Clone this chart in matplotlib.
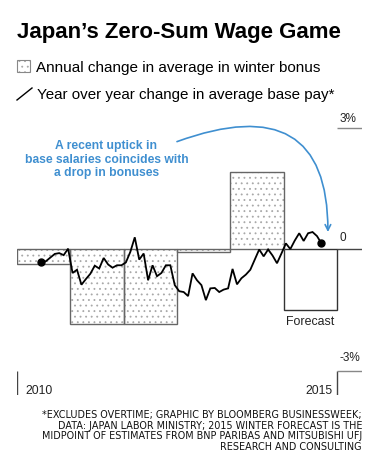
import matplotlib
matplotlib.use("Agg")
import matplotlib.pyplot as plt
from matplotlib.patches import Rectangle
import numpy as np
import pandas as pd

# ---------------- data ----------------
bonus_years = [2010, 2011, 2012, 2013, 2014, 2015]
bonus_change = [-0.37, -1.85, -1.85, -0.06, 1.91, -1.50]
bonus_forecast = [False, False, False, False, False, True]

pay_months = pd.date_range("2010-06-01", "2015-09-01", freq="MS")
pay_change = [
    -0.32, -0.29, -0.20, -0.11, -0.09, -0.14, 0.02,
    -0.58, -0.50, -0.87, -0.73, -0.60, -0.40, -0.47, -0.21, -0.37, -0.45, -0.39, -0.39, -0.32,
    -0.06, 0.30, -0.25, -0.10, -0.76, -0.39, -0.66, -0.58, -0.39, -0.39,
    -0.88, -1.03, -1.05, -1.15, -0.59, -0.76, -0.88, -1.25, -0.96, -0.95, -1.05, -0.99, -0.96,
    -0.48, -0.86, -0.71, -0.62, -0.50, -0.25, 0.00, -0.17, 0.00, -0.15, -0.34,
    -0.10, 0.15, 0.01, 0.22, 0.40, 0.21, 0.40, 0.43, 0.33, 0.15,
]
y_ticks = [3, 0, -3]
y_tick_labels = ["3%", "0", "-3%"]
x_labels = ["2010", "2015"]

title = "Japan\u2019s Zero-Sum Wage Game"
legend_bar = "Annual change in average in winter bonus"
legend_line = "Year over year change in average base pay*"
note_lines = ["A recent uptick in", "base salaries coincides with", "a drop in bonuses"]
footnote = [
    "*EXCLUDES OVERTIME; GRAPHIC BY BLOOMBERG BUSINESSWEEK;",
    "DATA: JAPAN LABOR MINISTRY; 2015 WINTER FORECAST IS THE",
    "MIDPOINT OF ESTIMATES FROM BNP PARIBAS AND MITSUBISHI UFJ",
    "RESEARCH AND CONSULTING",
]

# ---------------- style ----------------
W, H = 378, 471
plt.rcParams["hatch.linewidth"] = 0.6
FONT = "Liberation Sans"
BLUE = "#3f8fd0"
DOTS = "#a8a8a8"

fig = plt.figure(figsize=(W / 100, H / 100), dpi=100)
fig.patch.set_facecolor("white")


def fx(px):
    return px / W


def fy(py):
    return 1 - py / H


ax = fig.add_axes([fx(17), fy(395), fx(362) - fx(17), fy(110) - fy(395)])
ax.set_xlim(2010, 2016.469)
ax.set_ylim(-3.59, 3.44)
ax.axis("off")

# bars
for yr, val, fc in zip(bonus_years, bonus_change, bonus_forecast):
    if fc:
        ax.bar(yr, val, width=1.0, align="edge", facecolor="white",
               edgecolor="#333333", linewidth=1.0, zorder=2)
    else:
        ax.bar(yr, val, width=1.0, align="edge", facecolor="white",
               edgecolor=DOTS, linewidth=0, hatch="...", zorder=2)
        ax.bar(yr, val, width=1.0, align="edge", facecolor="none",
               edgecolor="#666666", linewidth=1.0, zorder=3)

# line
xs = np.array([d.year + (d.month - 0.5) / 12 for d in pay_months])
ax.plot(xs, pay_change, color="black", lw=1.3, zorder=5, solid_joinstyle="miter")
ax.plot([xs[0], xs[-1]], [pay_change[0], pay_change[-1]], "o", color="black",
        ms=5, zorder=6)

# right-hand scale
x_end = 2016.469
label_offsets = [0.15, 0.22, 0.25]
for yt, lab, off in zip(y_ticks, y_tick_labels, label_offsets):
    ax.plot([2016, x_end], [yt, yt], color="#888888" if yt != 0 else "#444444",
            lw=1.0, zorder=4, solid_capstyle="butt")
    ax.text(2016.04, yt + off, lab, fontsize=8.5, family=FONT,
            ha="left", va="baseline", color="#222222")
for xv in [2010, 2016]:
    ax.plot([xv, xv], [-3.59, -3.0], color="#444444", lw=1.0,
            solid_capstyle="butt")
ax.text(2010.15, -3.57, x_labels[0], fontsize=8.7, family=FONT,
        ha="left", va="baseline", color="#222222")
ax.text(2015.92, -3.57, x_labels[1], fontsize=8.7, family=FONT,
        ha="right", va="baseline", color="#222222")
ax.text(2015.5, -1.87, "Forecast", fontsize=8.9, family=FONT,
        ha="center", va="baseline", color="#222222")

# annotation
for i, ln in enumerate(note_lines):
    ax.text(2011.678, (249.5 - (149.3 + 13.7 * i)) / 40.4, ln, fontsize=8.7,
            family=FONT, weight="bold", color=BLUE, ha="center", va="baseline")
ax.annotate("", xy=(2015.83, 0.43), xytext=(2013.0, 2.66),
            arrowprops=dict(arrowstyle="->", color=BLUE, lw=1.2,
                            shrinkA=0, shrinkB=0,
                            connectionstyle="angle3,angleA=20,angleB=90"))

# title and legend
fig.text(fx(17), fy(38), title, fontsize=16, family=FONT, weight="bold",
         ha="left", va="baseline", color="black")
fig.text(fx(36), fy(71.7), legend_bar, fontsize=11.0, family=FONT,
         ha="left", va="baseline", color="black")
fig.text(fx(37), fy(98.5), legend_line, fontsize=10.9, family=FONT,
         ha="left", va="baseline", color="black")
fig.patches.append(Rectangle((fx(17), fy(72)), fx(13), fy(0) - fy(12),
                             transform=fig.transFigure, facecolor="white",
                             edgecolor=DOTS, hatch="...", linewidth=0))
fig.patches.append(Rectangle((fx(17), fy(72)), fx(13), fy(0) - fy(12),
                             transform=fig.transFigure, facecolor="none",
                             edgecolor="#888888", linewidth=0.8))
fig.lines.append(plt.Line2D([fx(17), fx(32)], [fy(100), fy(88)],
                            transform=fig.transFigure, color="black", lw=1.0))

# footnote
for i, line in enumerate(footnote):
    fig.text(fx(362), fy(418 + i * 10.6), line, fontsize=6.9,
             family="DejaVu Sans", ha="right", va="baseline", color="#111111")

fig.savefig("out.png", dpi=100, facecolor="white")
